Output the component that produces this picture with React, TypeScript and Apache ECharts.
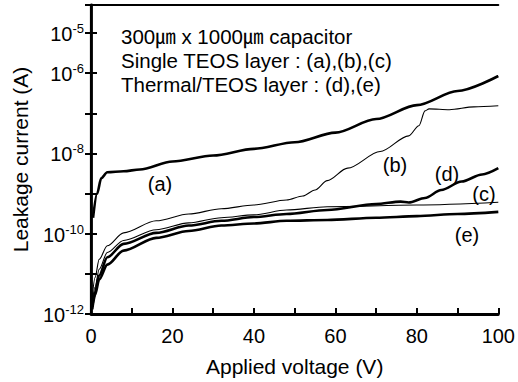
import React, { useEffect, useRef } from "react";
import * as echarts from "echarts";

// ---- data ----
const voltsA = [0.5, 1.5, 2.5, 4, 8, 12, 20, 30, 40, 50, 60, 70, 80, 90, 100];
const currentA = [2.5e-10, 1.0e-9, 2.4e-9, 3.4e-9, 3.6e-9, 4.0e-9, 6.3e-9, 8.9e-9, 1.3e-8, 1.9e-8, 3.3e-8, 7.2e-8, 1.6e-7, 3.6e-7, 8.5e-7];

const voltsB = [0.3, 1, 2, 4, 8, 16, 24, 32, 40, 48, 52, 55, 58, 63, 71, 78, 80.5, 82, 83, 88, 94, 100];
const currentB = [2.6e-12, 8.1e-12, 2.3e-11, 5.0e-11, 1.05e-10, 2.1e-10, 3.1e-10, 4.2e-10, 5.2e-10, 6.9e-10, 8.7e-10, 1.23e-9, 2.1e-9, 4.3e-9, 1.12e-8, 2.75e-8, 4.9e-8, 1.15e-7, 1.29e-7, 1.23e-7, 1.45e-7, 1.55e-7];

const voltsC = [0.3, 1, 2, 4, 8, 16, 24, 32, 40, 48, 58, 80, 100];
const currentC = [2.0e-12, 4.7e-12, 1.3e-11, 3.4e-11, 6.8e-11, 1.26e-10, 1.86e-10, 2.5e-10, 2.95e-10, 3.9e-10, 4.7e-10, 5.2e-10, 6.1e-10];

const voltsD = [0.3, 1, 2, 4, 8, 16, 24, 32, 40, 48, 58, 70, 76, 78, 82, 86, 91, 96, 100];
const currentD = [1.5e-12, 3.5e-12, 9.1e-12, 2.6e-11, 5.6e-11, 1.05e-10, 1.6e-10, 2.1e-10, 2.6e-10, 3.1e-10, 3.9e-10, 5.5e-10, 6.3e-10, 6.0e-10, 7.8e-10, 1.23e-9, 2.0e-9, 3.0e-9, 4.3e-9];

const voltsE = [0.3, 1, 2, 4, 8, 16, 24, 32, 40, 48, 58, 70, 80, 90, 100];
const currentE = [1.3e-12, 3.0e-12, 7.2e-12, 1.7e-11, 3.8e-11, 7.9e-11, 1.17e-10, 1.6e-10, 1.8e-10, 2.1e-10, 2.2e-10, 2.5e-10, 2.75e-10, 3.1e-10, 3.5e-10];

const xTickLabels = [0, 20, 40, 60, 80, 100];
const yLabelExponents = [-5, -6, -8, -10, -12];
const annotationLines = [
  "300㎛ x 1000㎛ capacitor",
  "Single TEOS layer : (a),(b),(c)",
  "Thermal/TEOS layer : (d),(e)",
];
const curveNames = ["(a)", "(b)", "(c)", "(d)", "(e)"];

const FONT = "'Liberation Sans', Arial, Helvetica, 'Noto Sans CJK KR', sans-serif";

function pairs(v: number[], c: number[]) {
  return v.map((x, i) => [x, c[i]]);
}

export default function App() {
  const ref = useRef<HTMLDivElement>(null);

  useEffect(() => {
    if (!ref.current) return;
    const chart = echarts.init(ref.current, null, { renderer: "svg" });

    const seriesDefs = [
      { name: curveNames[0], data: pairs(voltsA, currentA), width: 2.6 },
      { name: curveNames[1], data: pairs(voltsB, currentB), width: 1.1 },
      { name: curveNames[2], data: pairs(voltsC, currentC), width: 1.1 },
      { name: curveNames[3], data: pairs(voltsD, currentD), width: 2.6 },
      { name: curveNames[4], data: pairs(voltsE, currentE), width: 2.6 },
    ];

    const labelPos: Record<string, [number, number]> = {
      "(a)": [160, 184],
      "(b)": [395, 165],
      "(d)": [447, 174],
      "(c)": [484, 194],
      "(e)": [467, 235],
    };

    const yAxisCommon = {
      type: "log" as const,
      logBase: 10,
      min: 1e-12,
      max: 5e-5,
      interval: 1,
      splitLine: { show: false },
      axisLine: { show: true, lineStyle: { color: "#000", width: 2.8 } },
      axisTick: { show: true, inside: true, length: 6, lineStyle: { color: "#000", width: 2 } },
    };

    chart.setOption({
      animation: false,
      backgroundColor: "#fff",
      grid: { left: 91, right: 17, top: 5, bottom: 65, containLabel: false },
      xAxis: [
        {
          type: "value",
          min: 0,
          max: 100,
          interval: 10,
          position: "bottom",
          name: "Applied voltage (V)",
          nameLocation: "middle",
          nameGap: 42,
          nameTextStyle: { fontSize: 21, color: "#000", fontFamily: FONT },
          splitLine: { show: false },
          axisLine: { show: true, lineStyle: { color: "#000", width: 2.8 } },
          axisTick: { show: true, inside: true, length: 6, lineStyle: { color: "#000", width: 2 } },
          axisLabel: {
            margin: 12,
            fontSize: 20,
            color: "#000",
            fontFamily: FONT,
            formatter: (v: number) => (xTickLabels.includes(v) ? String(v) : ""),
          },
        },
        {
          type: "value",
          min: 0,
          max: 100,
          position: "top",
          splitLine: { show: false },
          axisLine: { show: true, lineStyle: { color: "#000", width: 2 } },
          axisTick: { show: false },
          axisLabel: { show: false },
        },
      ],
      yAxis: [
        {
          ...yAxisCommon,
          position: "left",
          name: "Leakage current (A)",
          nameLocation: "middle",
          nameGap: 60,
          nameTextStyle: { fontSize: 21, color: "#000", fontFamily: FONT },
          axisLabel: {
            margin: 7,
            color: "#000",
            fontFamily: FONT,
            formatter: (v: number) => {
              const l = Math.log10(v);
              const e = Math.round(l);
              if (Math.abs(l - e) > 0.01) return "";
              if (!yLabelExponents.includes(e)) return "";
              return `{b|10}{s|${e}}`;
            },
            rich: {
              b: { fontSize: 20, lineHeight: 22, color: "#000", fontFamily: FONT, verticalAlign: "bottom" },
              s: { fontSize: 13, lineHeight: 13, color: "#000", fontFamily: FONT, verticalAlign: "top" },
            },
          },
        },
        {
          ...yAxisCommon,
          position: "right",
          axisLine: { show: true, lineStyle: { color: "#000", width: 2.2 } },
          axisLabel: { show: false },
        },
      ],
      series: seriesDefs.map((s) => ({
        type: "line",
        name: s.name,
        data: s.data,
        xAxisIndex: 0,
        yAxisIndex: 0,
        showSymbol: false,
        symbol: "none",
        smooth: 0.3,
        smoothMonotone: "x",
        lineStyle: { color: "#000", width: s.width },
        z: 3,
      })),
      graphic: [
        ...annotationLines.map((t, i) => ({
          type: "text",
          left: 121,
          top: [26, 50, 74][i],
          style: { text: t, fontSize: 20.5, fill: "#000", fontFamily: FONT },
          z: 10,
        })),
        ...curveNames.map((n) => ({
          type: "text",
          x: labelPos[n][0],
          y: labelPos[n][1],
          style: {
            text: n,
            fontSize: 20,
            fill: "#000",
            fontFamily: FONT,
            align: "center",
            verticalAlign: "middle",
          },
          z: 10,
        })),
      ],
    });

    return () => chart.dispose();
  }, []);

  return (
    <div
      ref={ref}
      style={{ position: "fixed", left: 0, top: 0, width: 518, height: 382, background: "#fff" }}
    />
  );
}
